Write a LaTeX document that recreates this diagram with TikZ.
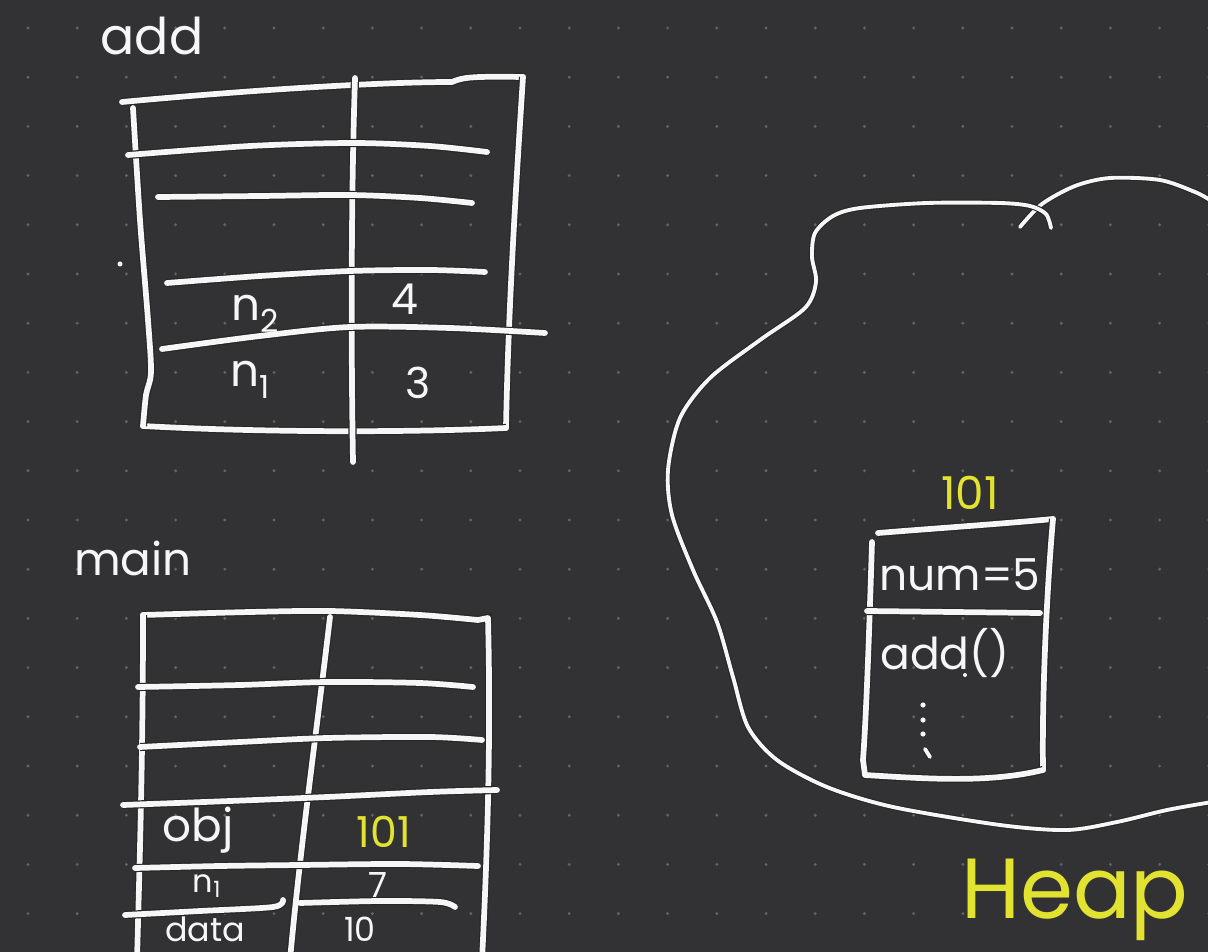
\documentclass[tikz,border=0pt]{standalone}
\usepackage{fontspec}
\setmainfont{Poppins}
\usepackage{xcolor}

\definecolor{board}{RGB}{50,50,53}
\definecolor{griddot}{RGB}{100,100,104}
\definecolor{chalk}{RGB}{246,246,246}
\definecolor{marker}{RGB}{226,226,48}

\tikzset{
  pen/.style={draw=chalk, line width=4.3pt, line cap=round, line join=round,
    preaction={draw=black!85, line width=6.1pt}},
  thinpen/.style={draw=chalk, line width=2.9pt, line cap=round, line join=round,
    preaction={draw=black!85, line width=4.5pt}},
  hand/.style={text=chalk, inner sep=0pt, font=\fontsize{32}{36}\selectfont},
  inkhand/.style={hand, text=marker},
}

\begin{document}
\begin{tikzpicture}[x=0.75pt,y=0.75pt,yscale=-1,xscale=1]
\useasboundingbox (0,0) rectangle (1208,952);
\clip (0,0) rectangle (1208,952);

% board and dot grid
\fill[board] (0,0) rectangle (1208,952);
\foreach \i in {0,...,24}
  \foreach \j in {0,...,18}
    \fill[griddot] ({28+49.2*\i},{28+49.2*\j}) circle (1.6);

%% add frame
% outer box
\draw[pen] (122,102) .. controls (250,90) and (380,82) .. (452,82) .. controls (462,78) and (466,76) .. (523,77) ;
\draw[pen] (523,77) .. controls (515,200) and (508,320) .. (506,428) ;
\draw[pen] (143,426) .. controls (250,432) and (400,433) .. (506,428) ;
\draw[pen] plot[smooth] coordinates {(133,108) (140,220) (148,320) (151,372) (146,395) (143,426)};
% column line
\draw[pen] (355,78) .. controls (351,200) and (351,350) .. (353,462) ;
% row lines
\draw[pen] plot[smooth] coordinates {(128,155) (250,146) (353,143) (430,146) (487,152)};
\draw[pen] plot[smooth] coordinates {(158,197) (260,196) (350,195) (420,198) (472,203)};
\draw[pen] plot[smooth] coordinates {(167,283) (260,276) (350,271) (430,270) (485,272)};
\draw[pen] plot[smooth] coordinates {(162,349) (260,336) (350,327) (450,328) (545,333)};
% stray dot
\fill[chalk] (120,264) circle (2.5);

% Text Node
\node[hand, font=\fontsize{38}{42}\selectfont] (addlabel) at (152,36) {add};
\node[hand, font=\fontsize{34}{38}\selectfont] (addntwo) at (255,314) {n\textsubscript{2}};
\node[hand] (addfour) at (405,299) {4};
\node[hand, font=\fontsize{34}{38}\selectfont] (addnone) at (250,380) {n\textsubscript{1}};
\node[hand] (addthree) at (418,383) {3};

%% main frame
% outer box
\draw[pen] plot[smooth] coordinates {(143,615) (250,612) (330,611) (420,615) (478,620)};
\draw[pen] (478,620) -- (488,618) .. controls (490,700) and (490,800) .. (482,960) ;
\draw[pen] (143,615) .. controls (143,750) and (140,850) .. (137,960) ;
% column line
\draw[pen] (330,617) .. controls (318,720) and (300,850) .. (290,960) ;
% row lines
\draw[pen] plot[smooth] coordinates {(138,687) (240,685) (327,682) (420,683) (473,687)};
\draw[pen] plot[smooth] coordinates {(140,747) (240,742) (327,738) (430,737) (482,740)};
\draw[pen] plot[smooth] coordinates {(123,805) (230,801) (327,797) (430,792) (497,790)};
\draw[pen] plot[smooth] coordinates {(135,868) (220,866) (300,865) (400,864) (478,866)};
\draw[pen] plot[smooth] coordinates {(125,915) (200,911) (273,907) (283,900)};
\draw[pen] plot[smooth] coordinates {(300,903) (380,901) (440,902) (455,907)};

% Text Node
\node[hand, font=\fontsize{34}{38}\selectfont] (mainlabel) at (133,558) {main};
\node[hand, font=\fontsize{34}{38}\selectfont] (mainobj) at (198,830) {obj};
\node[inkhand] (mainaddr) at (384,832) {101};
\node[hand, font=\fontsize{24}{28}\selectfont] (mainnone) at (207,886) {n\textsubscript{1}};
\node[hand, font=\fontsize{26}{30}\selectfont] (mainseven) at (378,885) {7};
\node[hand, font=\fontsize{25}{28}\selectfont] (maindata) at (205,929) {data};
\node[hand, font=\fontsize{25}{28}\selectfont] (mainten) at (360,929) {10};

%% heap region
\draw[thinpen] plot[smooth] coordinates {(1020,227) (1042,204) (1075,186) (1110,178) (1160,180) (1195,192) (1210,200)};
\draw[thinpen] plot[smooth] coordinates {(1051,228) (1046,214) (1030,206) (1000,203) (927,203) (860,208) (833,216) (815,233) (812,257) (816,282) (805,308) (760,340) (710,378) (680,418) (668,470) (672,515) (693,570) (717,622) (733,677) (748,727) (777,760) (827,787) (893,807) (1000,825) (1067,830) (1117,822) (1167,810) (1212,802)};

% object box
\draw[pen] (878,533) .. controls (940,528) and (1000,524) .. (1053,519) ;
\draw[pen] (1053,519) .. controls (1046,600) and (1042,700) .. (1043,770) ;
\draw[pen] (872,542) .. controls (869,640) and (866,720) .. (863,760) -- (865,775) .. controls (930,779) and (990,783) .. (1043,770) ;
\draw[pen] (867,611) -- (1040,613) ;
% dots
\fill[chalk] (965,675) circle (2);
\fill[chalk] (923,705) circle (2.6);
\fill[chalk] (923,720) circle (2.6);
\fill[chalk] (923,734) circle (2.6);
\draw[thinpen] (925,749) -- (930,757) ;

% Text Node
\node[inkhand, font=\fontsize{34}{38}\selectfont] (heapaddr) at (970,493) {101};
\node[hand, font=\fontsize{33}{37}\selectfont] (heapnum) at (960,575) {num=5};
\node[hand, font=\fontsize{33}{37}\selectfont] (heapadd) at (945,653) {add()};
\node[inkhand, font=\fontsize{64}{70}\selectfont] (heaplabel) at (1075,900) {Heap};

\end{tikzpicture}
\end{document}
